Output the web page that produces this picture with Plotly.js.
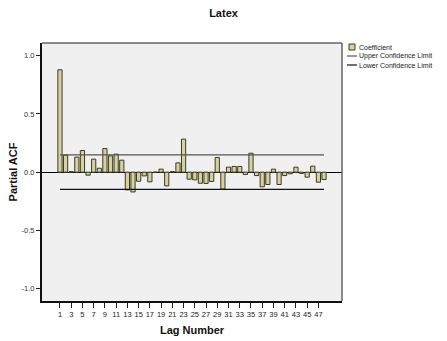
<!DOCTYPE html>
<html>
<head>
<meta charset="utf-8">
<script src="https://cdn.plot.ly/plotly-3.0.1.min.js"></script>
<style>html,body{margin:0;padding:0;background:#fff;}#chart{width:447px;height:341px;}</style>
</head>
<body>
<div id="chart"></div>
<script>
// Lag numbers 1..48
var lags = [1,2,3,4,5,6,7,8,9,10,11,12,13,14,15,16,17,18,19,20,21,22,23,24,25,26,27,28,29,30,31,32,33,34,35,36,37,38,39,40,41,42,43,44,45,46,47,48];
// Partial ACF coefficients
var coefficient = [0.88,0.146,0.005,0.129,0.186,-0.026,0.112,0.034,0.203,0.14,0.155,0.103,
  -0.152,-0.17,-0.078,-0.032,-0.083,0.0,0.026,-0.118,0.005,0.08,0.284,-0.06,
  -0.066,-0.095,-0.097,-0.08,0.126,-0.145,0.043,0.049,0.049,-0.02,0.163,-0.029,
  -0.126,-0.106,0.026,-0.106,-0.029,-0.014,0.043,-0.011,-0.043,0.052,-0.086,-0.063];
var upperLimit = 0.148;
var lowerLimit = -0.147;
var tickLags = [1,3,5,7,9,11,13,15,17,19,21,23,25,27,29,31,33,35,37,39,41,43,45,47];
var yTicks = [-1.0,-0.5,0.0,0.5,1.0];
var yTickText = ['-1.0','-0.5','0.0','0.5','1.0'];
var legendNames = ['Coefficient','Upper Confidence Limit','Lower Confidence Limit'];

var font = 'Liberation Sans, Arial, sans-serif';
var barFill = '#d6d29e', barLine = '#3a3a2a', upperColor = '#555555', lowerColor = '#111111';
var traces = [
  {type:'bar', x:lags, y:coefficient, name:legendNames[0],
   marker:{color:barFill, line:{color:barLine, width:1}}},
  {type:'scatter', mode:'lines', x:lags, y:lags.map(function(){return upperLimit;}),
   name:legendNames[1], line:{color:upperColor, width:1.2}},
  {type:'scatter', mode:'lines', x:lags, y:lags.map(function(){return lowerLimit;}),
   name:legendNames[2], line:{color:lowerColor, width:1.2}}
];
// manual legend (pixel -> paper helpers)
function px(x){ return (x - 42) / 300; }
function py(y){ return (301 - y) / 258; }
var legendY = [47, 56, 65];
var shapes = [
  {type:'line', xref:'paper', yref:'paper', x0:0, x1:1, y0:1, y1:1, line:{color:'#666', width:1.5}},
  {type:'line', xref:'paper', yref:'paper', x0:1, x1:1, y0:0, y1:1, line:{color:'#666', width:1.5}},
  {type:'rect', xref:'paper', yref:'paper', x0:px(349), x1:px(355), y0:py(legendY[0]+3), y1:py(legendY[0]-3),
   fillcolor:barFill, line:{color:barLine, width:1}},
  {type:'line', xref:'paper', yref:'paper', x0:px(347), x1:px(357), y0:py(legendY[1]), y1:py(legendY[1]), line:{color:upperColor, width:1.2}},
  {type:'line', xref:'paper', yref:'paper', x0:px(347), x1:px(357), y0:py(legendY[2]), y1:py(legendY[2]), line:{color:lowerColor, width:1.2}}
];
var annotations = legendNames.map(function(n, i){
  return {xref:'paper', yref:'paper', x:px(358), y:py(legendY[i]), xanchor:'left', yanchor:'middle',
          text:n, showarrow:false, borderpad:0, font:{family:font, size:7, color:'#222'}};
});
var layout = {
  width:447, height:341,
  margin:{l:42, r:105, t:43, b:40},
  paper_bgcolor:'#ffffff', plot_bgcolor:'#f0f0f0',
  font:{family:font, size:8, color:'#222'},
  title:{text:'<b>Latex</b>', font:{family:font, size:11, color:'#111'}, x:0.5, xref:'container', xanchor:'center', y:0.96, yanchor:'middle'},
  bargap:0.25,
  showlegend:false,
  xaxis:{range:[-2.2,51.2], tickmode:'array', tickvals:tickLags, ticktext:tickLags.map(String), tickangle:0,
         ticks:'outside', ticklen:5, tickcolor:'#222', tickwidth:1, showgrid:false, zeroline:false,
         showline:true, linecolor:'#111', linewidth:2, tickfont:{family:font, size:7.5, color:'#222'},
         title:{text:'<b>Lag Number</b>', font:{family:font, size:11, color:'#111'}, standoff:8}},
  yaxis:{range:[-1.107,1.11], tickmode:'array', tickvals:yTicks, ticktext:yTickText,
         ticks:'outside', ticklen:4, tickcolor:'#222', showgrid:false,
         zeroline:true, zerolinecolor:'#000', zerolinewidth:1,
         showline:true, linecolor:'#111', linewidth:2, tickfont:{family:font, size:7.5, color:'#333'},
         title:{text:'<b>Partial ACF</b>', font:{family:font, size:11, color:'#111'}, standoff:2}},
  shapes:shapes,
  annotations:annotations
};
Plotly.newPlot('chart', traces, layout, {displayModeBar:false, staticPlot:true});
</script>
</body>
</html>
